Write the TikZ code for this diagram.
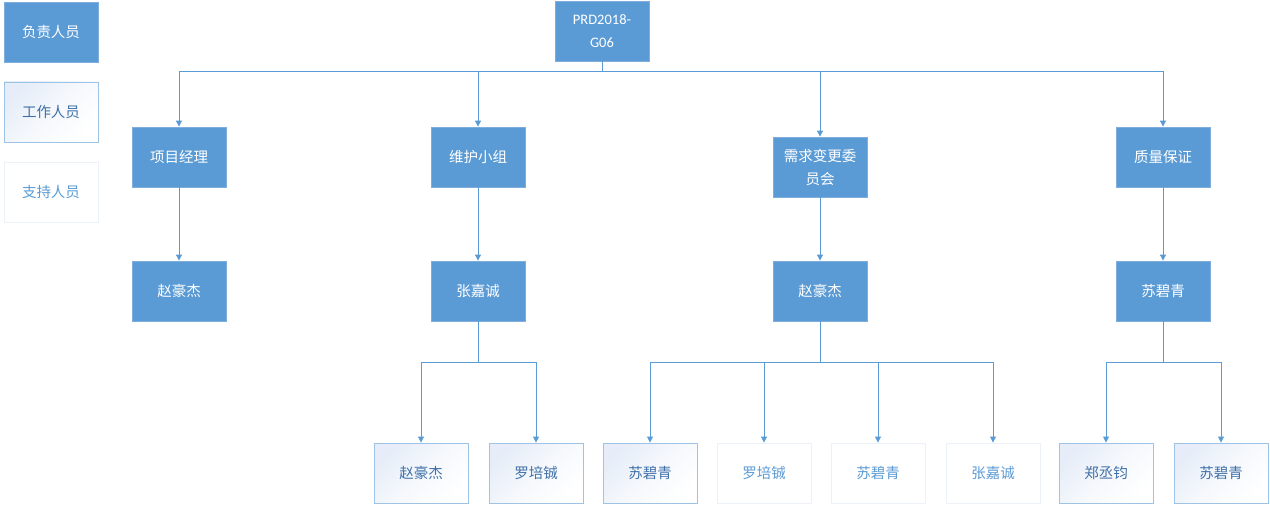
\documentclass[tikz,border=0pt]{standalone}
\usepackage{fontspec}
\newfontfamily\cjk{Noto Sans CJK SC}
\newfontfamily\latn{Carlito}
\usetikzlibrary{arrows.meta,shadows}
\definecolor{leadblue}{HTML}{5B9BD5}
\definecolor{leadedge}{HTML}{7FAEDD}
\definecolor{workedge}{HTML}{9DC3E6}
\definecolor{worktop}{HTML}{E6EDF8}
\definecolor{worktext}{HTML}{3F70A9}
\definecolor{supedge}{HTML}{EDF2F8}
\definecolor{suptext}{HTML}{5B9BD5}
\definecolor{wirecol}{HTML}{5B9BD5}
\tikzset{
  box/.style={minimum width=94pt, minimum height=60pt, inner sep=2pt, align=center,
    font=\cjk\fontsize{14.5}{23}\selectfont},
  lead/.style={box, fill=leadblue, draw=leadedge, line width=0.8pt, text=white,
    drop shadow={opacity=0.18, shadow xshift=1pt, shadow yshift=-1.5pt}},
  work/.style={box, draw=workedge, line width=0.9pt, text=worktext,
    top color=worktop, bottom color=white, middle color=white!60!worktop, shading angle=45},
  support/.style={box, fill=white, draw=supedge, line width=0.9pt, text=suptext},
  wire/.style={draw=wirecol, line width=0.9pt, -{Triangle[length=6pt,width=6pt]}},
}
\begin{document}
\begin{tikzpicture}[x=1pt,y=-1pt]
\useasboundingbox (0,0) rectangle (1270,505);

% legend
\node[lead]    (legLead) at (51,32)  {负责人员};
\node[work]    (legWork) at (51,112) {工作人员};
\node[support] (legSup)  at (51,192) {支持人员};

% root
\node[lead, font=\latn\fontsize{14.5}{23}\selectfont] (root) at (602,31) {PRD2018-\\G06};

% first level
\node[lead] (pm)  at (179,157) {项目经理};
\node[lead] (mt)  at (478,157) {维护小组};
\node[lead] (ccb) at (820,167) {需求变更委\\员会};
\node[lead] (qa)  at (1163,157) {质量保证};

% second level
\node[lead] (pmA)  at (179,291)  {赵豪杰};
\node[lead] (mtA)  at (478,291)  {张嘉诚};
\node[lead] (ccbA) at (820,291)  {赵豪杰};
\node[lead] (qaA)  at (1163,291) {苏碧青};

% third level
\node[work]    (mt1)  at (421,473)  {赵豪杰};
\node[work]    (mt2)  at (536,473)  {罗培铖};
\node[work]    (ccb1) at (650,473)  {苏碧青};
\node[support] (ccb2) at (764,473)  {罗培铖};
\node[support] (ccb3) at (878,473)  {苏碧青};
\node[support] (ccb4) at (993,473)  {张嘉诚};
\node[work]    (qa1)  at (1106,473) {郑丞钧};
\node[work]    (qa2)  at (1221,473) {苏碧青};

% connectors
\foreach \c in {pm,mt,ccb,qa}
  \draw[wire] (root.south) -- ++(0,10) -| (\c.north);
\draw[wire] (pm) -- (pmA);
\draw[wire] (mt) -- (mtA);
\draw[wire] (ccb) -- (ccbA);
\draw[wire] (qa) -- (qaA);
\foreach \c in {mt1,mt2}
  \draw[wire] (mtA.south) -- ++(0,41) -| (\c.north);
\foreach \c in {ccb1,ccb2,ccb3,ccb4}
  \draw[wire] (ccbA.south) -- ++(0,41) -| (\c.north);
\foreach \c in {qa1,qa2}
  \draw[wire] (qaA.south) -- ++(0,41) -| (\c.north);
\end{tikzpicture}
\end{document}
